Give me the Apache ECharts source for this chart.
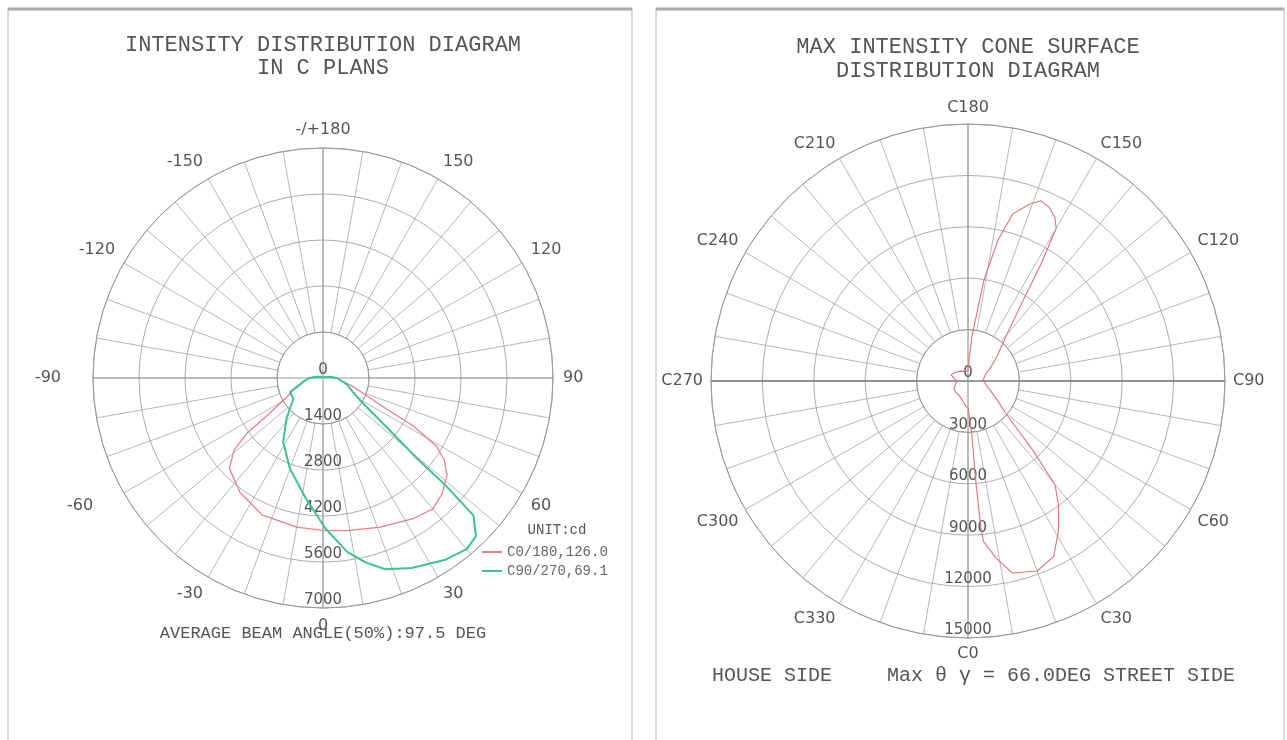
<!DOCTYPE html>
<html>
<head>
<meta charset="utf-8">
<script src="https://cdn.jsdelivr.net/npm/echarts@6.0.0/dist/echarts.min.js"></script>
<style>
  html, body { margin: 0; padding: 0; background: #fff; }
  #chart { width: 1287px; height: 740px; }
</style>
</head>
<body>
<div id="chart"></div>
<script>
// left diagram: gamma angle in degrees (+ = C0 / C90 side) and intensity in cd
const redGamma = [-180, -150, -120, -100, -90, -80, -70, -65, -62, -56, -54, -51, -46, -36, -24, -10, 0, 9, 21, 33, 40, 46, 52, 56, 59, 62, 64, 69, 75, 80, 90, 100, 120, 150, 180];
const redCd = [30, 40, 60, 200, 420, 560, 900, 1100, 1250, 2060, 2850, 3480, 3960, 4300, 4560, 4610, 4640, 4700, 4860, 5090, 5200, 5050, 4790, 4450, 4020, 3100, 2150, 1320, 900, 600, 420, 200, 60, 40, 30];

const greenGamma = [-180, -150, -120, -100, -90, -80, -70, -67, -55, -42, -32, -20, -8, 1, 8, 13, 18, 25, 34, 40, 44, 47.6, 48.8, 49.4, 51.9, 58.2, 65, 75, 90, 100, 120, 150, 180];
const greenCd = [30, 40, 60, 200, 420, 600, 900, 1090, 1100, 1660, 2290, 2940, 3710, 4590, 5350, 5760, 6120, 6380, 6670, 6800, 6700, 6200, 4950, 3780, 2580, 1385, 1000, 750, 420, 200, 60, 40, 30];

// right diagram: C plane angle and intensity on the max intensity cone
const coneC = [0, 3, 4, 4.5, 5, 5.5, 9, 13, 20, 26, 31, 36, 40, 43, 49, 60, 70, 83, 95, 105, 115, 120, 130, 135, 140, 145, 148, 150, 152, 155, 158, 161, 165, 168, 171, 175, 178, 180, 190, 200, 220, 240, 250, 260, 270, 290, 300, 310, 330, 345, 355, 360];
const coneCd = [1550, 1650, 3000, 6000, 8500, 9400, 10450, 11500, 11800, 11400, 10240, 9000, 7900, 5600, 3000, 1800, 1300, 1000, 900, 1000, 1200, 1500, 2200, 2700, 3500, 5300, 8000, 10300, 10800, 11200, 11350, 10900, 10100, 8400, 6000, 2600, 1000, 600, 500, 600, 750, 950, 1050, 800, 660, 800, 950, 960, 1000, 1200, 1500, 1550];

// tick labels
const labelAngles = [0, 30, 60, 90, 120, 150, 180, 210, 240, 270, 300, 330];
const leftLabelTexts = ['0', '30', '60', '90', '120', '150', '-/+180', '-150', '-120', '{far|-90}', '{far|-60}', '-30'];
const rightLabelTexts = ['C0', 'C30', 'C60', 'C90', 'C120', 'C150', 'C180', 'C210', 'C240', 'C270', 'C300', 'C330'];
const leftRing = { min: 0, max: 7000, step: 1400 };
const rightRing = { min: 0, max: 15000, step: 3000 };

const legendNames = ['C0/180,126.0', 'C90/270,69.1'];

const MONO = '"Liberation Mono", "DejaVu Sans Mono", monospace';
const SANS = '"DejaVu Sans", Verdana, sans-serif';
const GRID = '#a4a4a4';
const TEXT = '#555';

const L = { cx: 323, cy: 378, r: 230 };
const R = { cx: 968, cy: 381, r: 257 };

function angleLabel(texts) {
  return (v) => {
    const i = labelAngles.indexOf(v);
    return i < 0 ? '' : texts[i];
  };
}

// two polars per diagram: spokes start at the first ring, data polar starts at the centre
function polarPair(p) {
  return [
    { center: [p.cx, p.cy], radius: [p.r / 5, p.r] },
    { center: [p.cx, p.cy], radius: [0, p.r] },
  ];
}

function gridAngleAxis(idx, texts, margin) {
  return {
    polarIndex: idx, type: 'value', min: 0, max: 360, interval: 10,
    startAngle: 270, clockwise: false,
    axisLine: { show: true, lineStyle: { color: '#999', width: 1 } },
    axisTick: { show: false },
    axisLabel: {
      show: true, margin: margin, formatter: angleLabel(texts),
      color: TEXT, fontFamily: SANS, fontSize: 16,
      rich: { far: { color: TEXT, fontFamily: SANS, fontSize: 16, padding: [0, 22, 0, 0] } },
    },
    splitLine: { show: true, lineStyle: { color: GRID, width: 0.8 } },
  };
}

function crossAngleAxis(idx, colors, width) {
  return {
    polarIndex: idx, type: 'value', min: 0, max: 360, interval: 90,
    startAngle: 270, clockwise: false,
    axisLine: { show: false }, axisTick: { show: false }, axisLabel: { show: false },
    splitLine: { show: true, lineStyle: { color: colors, width: width } },
  };
}

function gridRadiusAxis(idx, ring) {
  return {
    polarIndex: idx, type: 'value', min: ring.step, max: ring.max, interval: ring.step,
    axisLine: { show: false }, axisTick: { show: false }, axisLabel: { show: false },
    splitLine: { show: true, lineStyle: { color: GRID, width: 0.9 } },
  };
}

function dataRadiusAxis(idx, ring) {
  return {
    polarIndex: idx, type: 'value', min: ring.min, max: ring.max, interval: ring.step,
    axisLine: { show: false }, axisTick: { show: false },
    splitLine: { show: false },
    axisLabel: {
      show: true, margin: 0, align: 'center', verticalAlign: 'bottom',
      formatter: (v) => String(v),
      color: TEXT, fontFamily: SANS, fontSize: 15,
    },
  };
}

const toPolar = (angles, values) => angles.map((a, i) => [values[i], a < 0 ? a + 360 : a]);

function txt(x, y, text, size, align) {
  return {
    type: 'text', x: x, y: y, z: 10,
    style: {
      text: text, fill: TEXT, font: size + 'px ' + MONO,
      align: align || 'center', verticalAlign: 'middle',
    },
  };
}

const option = {
  animation: false,
  backgroundColor: '#fff',
  polar: [...polarPair(L), ...polarPair(R)],
  angleAxis: [
    gridAngleAxis(0, leftLabelTexts, 10),
    crossAngleAxis(1, '#999', 1),
    gridAngleAxis(2, rightLabelTexts, 8),
    crossAngleAxis(3, ['#aaa', '#777', '#aaa', '#777'], 1.4),
  ],
  radiusAxis: [
    gridRadiusAxis(0, leftRing),
    dataRadiusAxis(1, leftRing),
    gridRadiusAxis(2, rightRing),
    dataRadiusAxis(3, rightRing),
  ],
  legend: {
    left: 477, top: 540, orient: 'vertical', itemGap: 5,
    itemWidth: 20, itemHeight: 2, icon: 'rect',
    textStyle: { fontFamily: MONO, fontSize: 14, color: '#666' },
    data: legendNames,
  },
  graphic: [
    { type: 'rect', shape: { x: 8, y: 9, width: 624, height: 740 }, style: { fill: 'none', stroke: '#d0d0d0', lineWidth: 1.5 } },
    { type: 'line', shape: { x1: 8, y1: 9, x2: 632, y2: 9 }, style: { stroke: '#aaa', lineWidth: 3 } },
    { type: 'rect', shape: { x: 656, y: 9, width: 628, height: 740 }, style: { fill: 'none', stroke: '#d0d0d0', lineWidth: 1.5 } },
    { type: 'line', shape: { x1: 656, y1: 9, x2: 1284, y2: 9 }, style: { stroke: '#aaa', lineWidth: 3 } },
    txt(L.cx, 45, 'INTENSITY DISTRIBUTION DIAGRAM', 22),
    txt(L.cx, 68, 'IN C PLANS', 22),
    txt(R.cx, 47, 'MAX INTENSITY CONE SURFACE', 22),
    txt(R.cx, 71, 'DISTRIBUTION DIAGRAM', 22),
    txt(557, 530, 'UNIT:cd', 14),
    txt(L.cx, 633, 'AVERAGE BEAM ANGLE(50%):97.5 DEG', 17),
    txt(712, 676, 'HOUSE SIDE', 20, 'left'),
    txt(887, 676, 'Max \u03b8 \u03b3 = 66.0DEG STREET SIDE', 20, 'left'),
  ],
  series: [
    {
      name: legendNames[0], type: 'line', coordinateSystem: 'polar', polarIndex: 1,
      showSymbol: false, z: 4,
      itemStyle: { color: '#e57f88' },
      lineStyle: { color: '#e57f88', width: 1.3 },
      data: toPolar(redGamma, redCd),
    },
    {
      name: legendNames[1], type: 'line', coordinateSystem: 'polar', polarIndex: 1,
      showSymbol: false, z: 5,
      itemStyle: { color: '#3fc190' },
      lineStyle: { color: '#3fc190', width: 2 },
      data: toPolar(greenGamma, greenCd),
    },
    {
      name: 'cone', type: 'line', coordinateSystem: 'polar', polarIndex: 3,
      showSymbol: false, z: 4,
      itemStyle: { color: '#e0707c' },
      lineStyle: { color: '#e0707c', width: 1.1 },
      data: coneC.map((c, i) => [coneCd[i], c]),
    },
  ],
};

const chart = echarts.init(document.getElementById('chart'));
chart.setOption(option);
</script>
</body>
</html>
